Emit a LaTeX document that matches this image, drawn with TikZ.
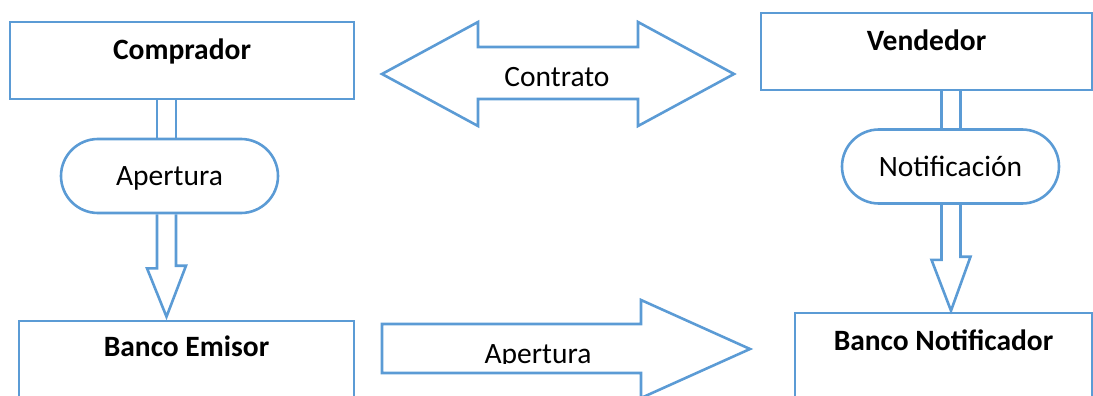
\documentclass[tikz,border=0pt]{standalone}
\usepackage{fontspec}
\setmainfont{Carlito}
\usetikzlibrary{shapes.misc, calc}
\definecolor{acento}{RGB}{91,155,213}

\begin{document}
\begin{tikzpicture}[x=1pt, y=-1pt,
    box/.style={draw=acento, line width=2.6pt, rectangle, inner sep=0pt},
    boxlbl/.style={font=\fontsize{29.5}{35}\selectfont\bfseries, anchor=base, yshift=-39pt},
    term/.style={draw=acento, line width=2.6pt, rounded rectangle, inner sep=0pt, text depth=0pt,
                 minimum width=217pt, minimum height=74pt, font=\fontsize{29.5}{35}\selectfont},
    txt/.style={font=\fontsize{29.5}{35}\selectfont, anchor=base, inner sep=0pt},
    flecha/.style={draw=acento, line width=2.6pt, line join=miter}]
    \clip (0,0) rectangle (1093,396);

    % Cajas:
    \node[box, minimum width=344pt, minimum height=77pt, label={[boxlbl]north:Comprador}] (comprador) at (182,60.5) {};
    \node[box, minimum width=331pt, minimum height=77pt, label={[boxlbl]north:Vendedor}] (vendedor) at (926.5,51.5) {};
    \node[box, minimum width=335pt, minimum height=89pt, label={[boxlbl, yshift=2pt]north:Banco Emisor}] (emisor) at (186.5,365.5) {};
    \node[box, minimum width=297pt, minimum height=97pt, label={[boxlbl]north:Banco Notificador}] (notificador) at (943.5,361.5) {};

    % Terminales:
    \node[term] (apertura) at (169.5,176) {Apertura};
    \node[term] (notificacion) at (950.5,166.5) {Notificación};

    % Ejes de las flechas verticales:
    \coordinate (ejeA) at (166.5,0);
    \coordinate (ejeB) at (951,0);

    \foreach \dx in {-9.5,9.5}{
        \draw[flecha] ($(comprador.south -| ejeA)+(\dx,0)$) -- ($(apertura.north -| ejeA)+(\dx,0)$);
        \draw[flecha] ($(vendedor.south -| ejeB)+(\dx,0)$) -- ($(notificacion.north -| ejeB)+(\dx,0)$);
    }

    \draw[flecha] ($(apertura.south -| ejeA)+(-9.5,0)$) -- ++(0,54) -- ++(-10,0)
        -- ($(emisor.north -| ejeA)+(0,-3)$) -- ++(19.5,-51) -- ++(-10,0)
        -- ($(apertura.south -| ejeA)+(9.5,0)$);
    \draw[flecha] ($(notificacion.south -| ejeB)+(-9.5,0)$) -- ++(0,55) -- ++(-10,0)
        -- ($(notificador.north -| ejeB)+(0,-1)$) -- ++(19.5,-54) -- ++(-10,0)
        -- ($(notificacion.south -| ejeB)+(9.5,0)$);

    % Flechas anchas:
    \draw[flecha] (382,74) -- (478,22) -- (478,47) -- (638,47) -- (638,22) -- (734,74)
        -- (638,126) -- (638,99) -- (478,99) -- (478,126) -- cycle;
    \node[txt] (contrato) at (557,86) {Contrato};

    \draw[flecha] (382,324) -- (641,324) -- (641,300) -- (750,349) -- (641,398)
        -- (641,373) -- (382,373) -- cycle;
    \begin{scope}
        \clip (382,300) rectangle (750,363);
        \node[txt] (envio) at (538,363) {Apertura};
    \end{scope}
\end{tikzpicture}
\end{document}
